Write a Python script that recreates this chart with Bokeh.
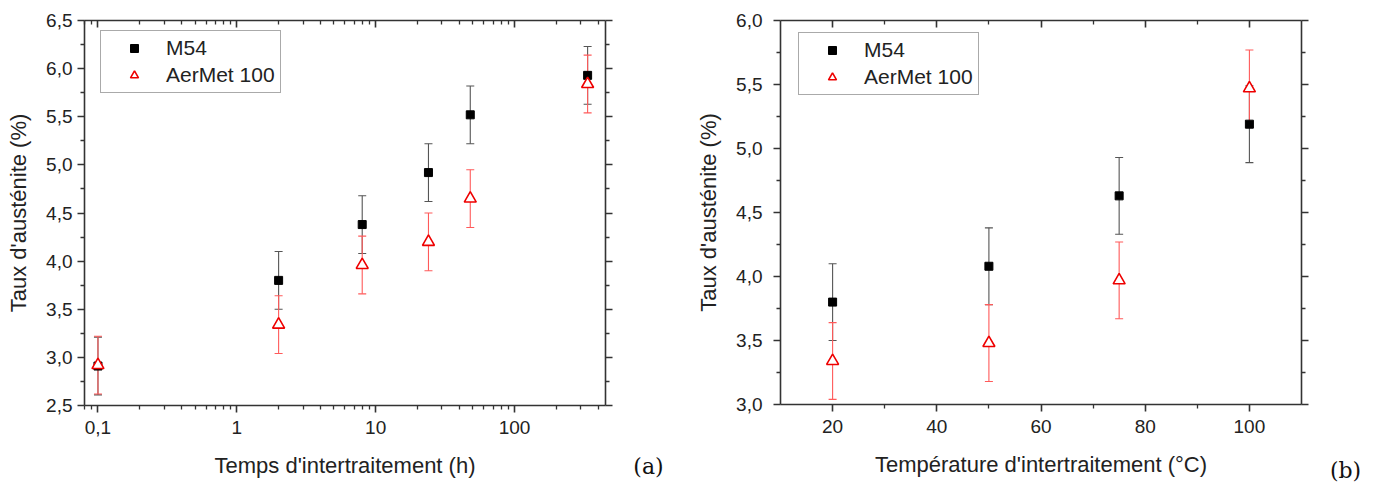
from bokeh.plotting import figure
from bokeh.models import (ColumnDataSource, Whisker, TeeHead, FixedTicker, LinearAxis, LogAxis,
                          Legend, LegendItem, Range1d, CustomJSTickFormatter)
from bokeh.layouts import row
from bokeh.embed import file_html
from bokeh.resources import INLINE

# ---------------- data (a) ----------------
times_h = [0.1, 2, 8, 24, 48, 336]
m54_time = [2.91, 3.80, 4.38, 4.92, 5.52, 5.93]
m54_time_err = [0.3, 0.3, 0.3, 0.3, 0.3, 0.3]
aermet_time = [2.92, 3.34, 3.96, 4.20, 4.65, 5.84]
aermet_time_err = [0.3, 0.3, 0.3, 0.3, 0.3, 0.3]

x_ticks_a = [0.1, 1, 10, 100]
x_tick_labels_a = ["0,1", "1", "10", "100"]
x_minor_a = [0.08, 0.09, 0.2, 0.3, 0.4, 0.5, 0.6, 0.7, 0.8, 0.9, 2, 3, 4, 5, 6, 7, 8, 9,
             20, 30, 40, 50, 60, 70, 80, 90, 200, 300, 400]
y_ticks_a = [2.5, 3.0, 3.5, 4.0, 4.5, 5.0, 5.5, 6.0, 6.5]
y_tick_labels_a = ["2,5", "3,0", "3,5", "4,0", "4,5", "5,0", "5,5", "6,0", "6,5"]
y_minor_a = [2.75, 3.25, 3.75, 4.25, 4.75, 5.25, 5.75, 6.25]

# ---------------- data (b) ----------------
temps_c = [20, 50, 75, 100]
m54_temp = [3.80, 4.08, 4.63, 5.19]
m54_temp_err = [0.3, 0.3, 0.3, 0.3]
aermet_temp = [3.34, 3.48, 3.97, 5.47]
aermet_temp_err = [0.3, 0.3, 0.3, 0.3]

x_ticks_b = [20, 40, 60, 80, 100]
x_tick_labels_b = ["20", "40", "60", "80", "100"]
x_minor_b = [30, 50, 70, 90]
y_ticks_b = [3.0, 3.5, 4.0, 4.5, 5.0, 5.5, 6.0]
y_tick_labels_b = ["3,0", "3,5", "4,0", "4,5", "5,0", "5,5", "6,0"]
y_minor_b = [3.25, 3.75, 4.25, 4.75, 5.25, 5.75]

panel_tags = ["(a)", "(b)"]

FONT = "Liberation Sans"
AXC = "#333333"
TOTAL_H = 485


def fmt(tvals, tlabels):
    return CustomJSTickFormatter(args=dict(tvals=tvals, tlabels=tlabels), code="""
        for (let i = 0; i < tvals.length; i++) {
            if (Math.abs(tvals[i] - tick) < 1e-9) return tlabels[i];
        }
        return '';
    """)


def style_axis(ax, inward, standoff=6):
    ax.axis_line_color = AXC
    ax.axis_line_width = 1.6
    ax.major_tick_line_color = AXC
    ax.major_tick_line_width = 1.6
    ax.minor_tick_line_color = AXC
    ax.minor_tick_line_width = 1.3
    if inward:
        ax.major_tick_in, ax.major_tick_out = 7, 0
        ax.minor_tick_in, ax.minor_tick_out = 4, 0
    else:
        ax.major_tick_in, ax.major_tick_out = 0, 7
        ax.minor_tick_in, ax.minor_tick_out = 0, 4
    ax.major_label_text_font = FONT
    ax.major_label_text_font_size = "19px"
    ax.major_label_text_color = "#222222"
    ax.major_label_standoff = standoff
    ax.axis_label_text_font = FONT
    ax.axis_label_text_font_size = "22px"
    ax.axis_label_text_font_style = "normal"
    ax.axis_label_text_color = "#222222"


def make_panel(xs, m54, m54e, aer, aere, log_x, x_rng, y_rng, xt, xtl, xm, yt, ytl, ym,
               xlabel, border_left, border_right, frame_h, legend_loc, ylab_standoff):
    p = figure(x_axis_type="log" if log_x else "linear",
               x_range=Range1d(*x_rng), y_range=Range1d(*y_rng),
               frame_width=521, frame_height=frame_h,
               min_border_left=border_left, min_border_right=border_right,
               min_border_top=20, min_border_bottom=TOTAL_H - 20 - frame_h,
               output_backend="svg", toolbar_location=None)
    p.outline_line_color = None
    p.xgrid.visible = False
    p.ygrid.visible = False
    p.background_fill_color = "white"
    p.border_fill_color = "white"

    AxisCls = LogAxis if log_x else LinearAxis
    # bottom
    bx = p.xaxis[0]
    bx.ticker = FixedTicker(ticks=xt, minor_ticks=xm)
    bx.formatter = fmt(xt, xtl)
    bx.axis_label = xlabel
    style_axis(bx, inward=False, standoff=8)
    bx.axis_label_standoff = 16
    # left
    ly = p.yaxis[0]
    ly.ticker = FixedTicker(ticks=yt, minor_ticks=ym)
    ly.formatter = fmt(yt, ytl)
    ly.axis_label = "Taux d'austénite (%)"
    style_axis(ly, inward=False, standoff=ylab_standoff)
    ly.axis_label_standoff = 12
    # top
    tx = AxisCls(ticker=FixedTicker(ticks=xt, minor_ticks=xm),
                 formatter=CustomJSTickFormatter(code="return '';"))
    style_axis(tx, inward=True)
    tx.major_label_text_font_size = "1px"
    tx.major_label_standoff = 0
    p.add_layout(tx, "above")
    # right
    ry = LinearAxis(ticker=FixedTicker(ticks=yt, minor_ticks=ym),
                    formatter=CustomJSTickFormatter(code="return '';"))
    style_axis(ry, inward=False)
    ry.major_label_text_font_size = "1px"
    ry.major_label_standoff = 0
    p.add_layout(ry, "right")

    # error bars
    src_m = ColumnDataSource(dict(x=xs, y=m54,
                                  lo=[v - e for v, e in zip(m54, m54e)],
                                  hi=[v + e for v, e in zip(m54, m54e)]))
    src_a = ColumnDataSource(dict(x=xs, y=aer,
                                  lo=[v - e for v, e in zip(aer, aere)],
                                  hi=[v + e for v, e in zip(aer, aere)]))
    for src, col in ((src_m, "#555555"), (src_a, "#ff5a5a")):
        w = Whisker(base="x", lower="lo", upper="hi", source=src, dimension="height",
                    line_color=col, line_width=1.1,
                    upper_head=TeeHead(size=8, line_color=col, line_width=1.1),
                    lower_head=TeeHead(size=8, line_color=col, line_width=1.1),
                    level="underlay")
        p.add_layout(w)

    sq = p.scatter("x", "y", source=src_m, marker="square", size=8,
                   fill_color="black", line_color="black")
    tri = p.scatter("x", "y", source=src_a, marker="triangle", size=12,
                    fill_color="white", line_color="#ee0000", line_width=1.6)

    leg = Legend(items=[LegendItem(label="M54", renderers=[sq]),
                        LegendItem(label="AerMet 100", renderers=[tri])],
                 location=legend_loc)
    leg.label_text_font = FONT
    leg.label_text_font_size = "21px"
    leg.label_text_color = "#222222"
    leg.padding = 5
    leg.margin = 0
    leg.spacing = 3
    leg.label_height = 24
    leg.glyph_height = 20
    leg.glyph_width = 56
    leg.label_standoff = 4
    leg.border_line_color = "#555555"
    leg.border_line_width = 1
    leg.background_fill_alpha = 1.0
    p.add_layout(leg)
    return p


def make_tag(text, width, pos, standoff):
    # narrow strip whose single bottom-axis tick label carries the panel tag
    t = figure(width=width, height=TOTAL_H, min_border=0, output_backend="svg",
               toolbar_location=None, y_axis_location=None,
               x_range=Range1d(0, 1), y_range=Range1d(0, 1))
    t.grid.visible = False
    t.outline_line_color = None
    t.border_fill_color = "white"
    ax = t.xaxis[0]
    ax.ticker = FixedTicker(ticks=[pos], minor_ticks=[])
    ax.formatter = fmt([pos], [text])
    ax.axis_line_color = None
    ax.major_tick_line_color = None
    ax.minor_tick_line_color = None
    ax.major_tick_in = 0
    ax.major_tick_out = 0
    ax.major_label_standoff = standoff
    ax.major_label_text_font = "DejaVu Serif"
    ax.major_label_text_font_size = "22px"
    ax.major_label_text_color = "#111111"
    return t


p1 = make_panel(times_h, m54_time, m54_time_err, aermet_time, aermet_time_err, True,
                (0.08, 452), (2.5, 6.5), x_ticks_a, x_tick_labels_a, x_minor_a,
                y_ticks_a, y_tick_labels_a, y_minor_a,
                "Temps d'intertraitement (h)", 84, 20, 385, (16, 312), 5)
tag_a = make_tag(panel_tags[0], 65, 0.354, 51)

p2 = make_panel(temps_c, m54_temp, m54_temp_err, aermet_temp, aermet_temp_err, False,
                (10, 110), (3.0, 6.0), x_ticks_b, x_tick_labels_b, x_minor_b,
                y_ticks_b, y_tick_labels_b, y_minor_b,
                "Température d'intertraitement (°C)", 90, 20, 384, (18, 309), 11)
tag_b = make_tag(panel_tags[1], 50, 0.48, 55)

layout = row(p1, tag_a, p2, tag_b)
open("out.html", "w").write(file_html(layout, INLINE))
